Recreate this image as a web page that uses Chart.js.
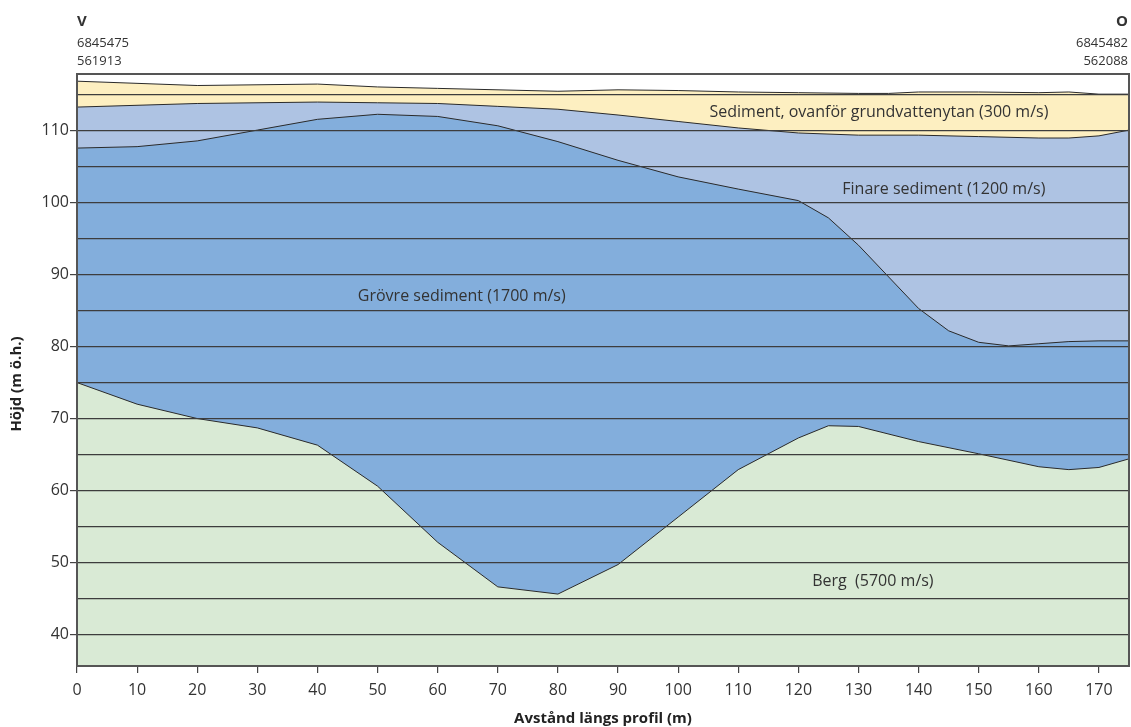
<!DOCTYPE html>
<html lang="sv">
<head>
  <meta charset="UTF-8" />
  <title>Seismisk profil</title>
  <script src="https://cdn.jsdelivr.net/npm/chart.js"></script>
  <style>
    html, body { margin: 0; padding: 0; background: #fff; }
    #wrap { width: 1131px; height: 727px; }
  </style>
</head>
<body>
  <div id="wrap"><canvas id="profil"></canvas></div>

  <script>
    // markytan
    const groundX = [0, 20, 40, 50, 60, 80, 90, 100, 110, 120, 130, 135, 140, 150, 160, 165, 170, 175];
    const groundY = [116.9, 116.3, 116.5, 116.1, 115.9, 115.5, 115.7, 115.6, 115.4, 115.3, 115.2, 115.2, 115.4, 115.4, 115.3, 115.4, 115.1, 115.1];

    // grundvattenytan
    const waterX = [0, 20, 40, 50, 60, 70, 80, 90, 100, 110, 120, 130, 140, 150, 160, 165, 170, 175];
    const waterY = [113.3, 113.8, 114.0, 113.9, 113.8, 113.4, 113.0, 112.2, 111.3, 110.4, 109.7, 109.4, 109.4, 109.2, 109.0, 109.0, 109.3, 110.1];

    // gräns finare / grövre sediment
    const coarseX = [0, 10, 20, 30, 40, 50, 60, 70, 80, 90, 100, 110, 120, 125, 130, 140, 145, 150, 155, 160, 165, 170, 175];
    const coarseY = [107.6, 107.8, 108.6, 110.1, 111.6, 112.3, 112.0, 110.7, 108.5, 105.9, 103.6, 101.9, 100.3, 97.9, 94.1, 85.3, 82.2, 80.6, 80.1, 80.4, 80.7, 80.8, 80.8];

    // bergytan
    const rockX = [0, 10, 20, 30, 40, 50, 60, 70, 80, 90, 100, 110, 120, 125, 130, 140, 150, 160, 165, 170, 175];
    const rockY = [75.0, 72.0, 70.0, 68.7, 66.3, 60.6, 52.8, 46.6, 45.6, 49.7, 56.3, 62.9, 67.3, 69.0, 68.9, 66.8, 65.1, 63.3, 62.9, 63.2, 64.4];

    const layerNames = ['Sediment, ovanför grundvattenytan (300 m/s)', 'Finare sediment (1200 m/s)', 'Grövre sediment (1700 m/s)', 'Berg  (5700 m/s)'];
    const layerLabelAt = [[133.4, 112.5], [144.2, 101.9], [64.0, 87.0], [132.4, 47.3]];

    const leftEnd = ['V', '6845475', '561913'];
    const rightEnd = ['O', '6845482', '562088'];

    const FONT = "'Open Sans', 'Noto Sans', sans-serif";
    Chart.defaults.font.family = FONT;
    Chart.defaults.color = '#333';

    function pts(xs, ys) {
      return xs.map((x, i) => ({ x: x, y: ys[i] }));
    }

    function layer(label, xs, ys, fillColor) {
      return {
        label: label,
        data: pts(xs, ys),
        borderColor: '#2a2a2a',
        borderWidth: 1,
        backgroundColor: fillColor,
        fill: 'start',
        pointRadius: 0,
        tension: 0
      };
    }

    // texter och ram
    const decor = {
      id: 'decor',
      afterDraw(chart) {
        const { ctx, chartArea: a, scales } = chart;
        ctx.save();
        ctx.strokeStyle = '#555';
        ctx.lineWidth = 2;
        ctx.strokeRect(a.left, a.top, a.right - a.left, a.bottom - a.top);

        ctx.fillStyle = '#333';
        ctx.font = '16px ' + FONT;
        ctx.textAlign = 'center';
        ctx.textBaseline = 'middle';
        layerNames.forEach((t, i) => {
          ctx.fillText(t, scales.x.getPixelForValue(layerLabelAt[i][0]), scales.y.getPixelForValue(layerLabelAt[i][1]));
        });

        const rows = [22, 43, 61];
        rows.forEach((y, i) => {
          ctx.font = (i === 0 ? 'bold 15px ' : '13px ') + FONT;
          ctx.textAlign = 'left';
          ctx.fillText(leftEnd[i], a.left, y);
          ctx.textAlign = 'right';
          ctx.fillText(rightEnd[i], a.right - 1, y);
        });

        // y-axelns titel
        ctx.translate(17, 384);
        ctx.rotate(-Math.PI / 2);
        ctx.textAlign = 'center';
        ctx.font = 'bold 15px ' + FONT;
        ctx.fillStyle = '#222';
        ctx.fillText('Höjd (m ö.h.)', 0, 0);
        ctx.restore();
      }
    };

    new Chart(document.getElementById('profil'), {
      type: 'line',
      data: {
        datasets: [
          layer('Berg', rockX, rockY, '#d9ead5'),
          layer('Grövre sediment', coarseX, coarseY, '#83aedc'),
          layer('Finare sediment', waterX, waterY, '#aec3e3'),
          layer('Sediment, ovanför grundvattenytan', groundX, groundY, '#fdefc1')
        ]
      },
      options: {
        responsive: true,
        maintainAspectRatio: false,
        animation: false,
        layout: { padding: { top: 74, right: 2, left: 0, bottom: 0 } },
        plugins: {
          legend: { display: false },
          tooltip: { enabled: false }
        },
        scales: {
          x: {
            type: 'linear',
            min: 0,
            max: 175,
            afterFit: (s) => { s.height = 61; },
            border: { display: false },
            grid: { drawOnChartArea: false, tickLength: 7, color: '#444', lineWidth: 1.2 },
            ticks: { stepSize: 10, includeBounds: false, padding: 8, maxRotation: 0, font: { size: 16 } },
            title: { display: true, text: 'Avstånd längs profil (m)', color: '#222', font: { size: 15, weight: 'bold' }, padding: { bottom: -1 } }
          },
          y: {
            min: 35.6,
            max: 117.9,
            afterFit: (s) => { s.width = 77; },
            border: { display: false },
            grid: {
              z: 1,
              color: '#3d3d3d',
              lineWidth: 1.2,
              tickLength: 7,
              tickColor: (c) => (c.tick && c.tick.value % 10 === 0 ? '#444' : 'rgba(0,0,0,0)')
            },
            ticks: {
              stepSize: 5,
              includeBounds: false,
              padding: 1,
              font: { size: 16 },
              callback: (v) => (v % 10 === 0 ? String(v) : '')
            }
          }
        }
      },
      plugins: [decor]
    });
  </script>
</body>
</html>
